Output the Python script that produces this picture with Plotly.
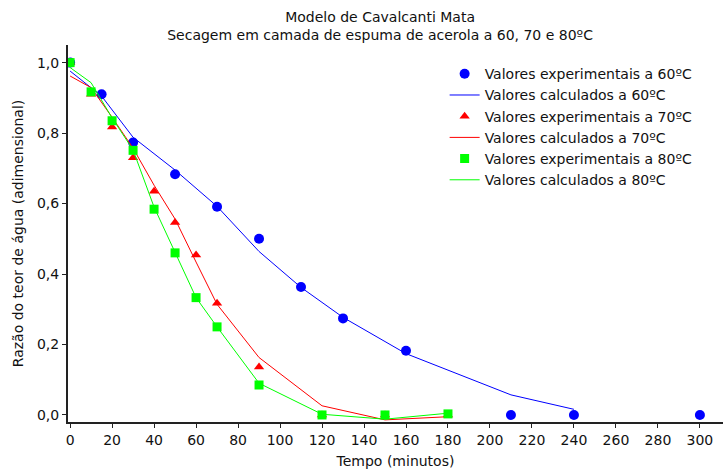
import plotly.graph_objects as go

# 60 °C
t60_exp = [0, 15, 30, 50, 70, 90, 110, 130, 160, 210, 240, 300]
mr60_exp = [1.0, 0.91, 0.773, 0.683, 0.591, 0.50, 0.363, 0.274, 0.182, 0.0, 0.0, 0.0]
t60_calc = [0, 15, 30, 50, 70, 90, 110, 130, 160, 210, 240]
mr60_calc = [0.976, 0.905, 0.788, 0.695, 0.592, 0.464, 0.362, 0.277, 0.174, 0.057, 0.016]

# 70 °C
t70_exp = [0, 10, 20, 30, 40, 50, 60, 70, 90, 120, 150, 180]
mr70_exp = [1.0, 0.91, 0.817, 0.73, 0.635, 0.546, 0.454, 0.317, 0.136, 0.0, 0.0, 0.0]
t70_calc = [0, 10, 20, 30, 40, 50, 60, 70, 90, 120, 150, 180]
mr70_calc = [0.962, 0.929, 0.845, 0.757, 0.652, 0.556, 0.434, 0.314, 0.163, 0.026, -0.014, -0.005]

# 80 °C
t80_exp = [0, 10, 20, 30, 40, 50, 60, 70, 90, 120, 150, 180]
mr80_exp = [1.0, 0.917, 0.835, 0.751, 0.584, 0.46, 0.333, 0.25, 0.085, 0.0, 0.0, 0.003]
t80_calc = [0, 10, 20, 30, 40, 50, 60, 70, 90, 120, 150, 180]
mr80_calc = [0.986, 0.943, 0.843, 0.752, 0.59, 0.46, 0.333, 0.25, 0.09, 0.002, -0.012, 0.005]

x_ticks = list(range(0, 301, 20))
y_ticks = [0.0, 0.2, 0.4, 0.6, 0.8, 1.0]

BLUE = "#0000FF"
RED = "#FF0000"
GREEN = "#00FF00"

fig = go.Figure()
fig.add_trace(go.Scatter(x=t60_exp, y=mr60_exp, mode="markers", name="Valores experimentais a 60ºC",
                         marker=dict(symbol="circle", size=10, color=BLUE)))
fig.add_trace(go.Scatter(x=t60_calc, y=mr60_calc, mode="lines", name="Valores calculados a 60ºC",
                         line=dict(color=BLUE, width=1)))
fig.add_trace(go.Scatter(x=t70_exp, y=mr70_exp, mode="markers", name="Valores experimentais a 70ºC",
                         marker=dict(symbol="triangle-up", size=9, color=RED)))
fig.add_trace(go.Scatter(x=t70_calc, y=mr70_calc, mode="lines", name="Valores calculados a 70ºC",
                         line=dict(color=RED, width=1)))
fig.add_trace(go.Scatter(x=t80_exp, y=mr80_exp, mode="markers", name="Valores experimentais a 80ºC",
                         marker=dict(symbol="square", size=9, color=GREEN)))
fig.add_trace(go.Scatter(x=t80_calc, y=mr80_calc, mode="lines", name="Valores calculados a 80ºC",
                         line=dict(color=GREEN, width=1)))

font_family = "DejaVu Sans, Liberation Sans, Arial, sans-serif"

fig.update_layout(
    width=724, height=470,
    margin=dict(l=68, r=1, t=45, b=48),
    paper_bgcolor="white", plot_bgcolor="white",
    separators=",.",
    font=dict(family=font_family, size=14, color="#111111"),
    title=dict(text="Modelo de Cavalcanti Mata<br>Secagem em camada de espuma de acerola a 60, 70 e 80ºC",
               x=0.525, xanchor="center", y=0.953, yanchor="top",
               font=dict(size=14, family=font_family)),
    showlegend=True,
    legend=dict(x=0.575, y=0.965, xanchor="left", yanchor="top",
                bgcolor="rgba(0,0,0,0)", font=dict(size=14, family=font_family),
                tracegroupgap=0, itemsizing="trace"),
    xaxis=dict(range=[-1, 311], tickvals=x_ticks, showgrid=False, zeroline=False,
               showline=True, linecolor="#222222", linewidth=2,
               ticks="outside", ticklen=4, tickcolor="#222222",
               tickfont=dict(size=14), automargin=False,
               title=dict(text="Tempo (minutos)", font=dict(size=14), standoff=9)),
    yaxis=dict(range=[-0.02, 1.05], tickvals=y_ticks, tickformat=".1f", showgrid=False, zeroline=False,
               showline=True, linecolor="#222222", linewidth=2,
               ticks="outside", ticklen=4, tickcolor="#222222",
               tickfont=dict(size=14), automargin=False,
               title=dict(text="Razão do teor de água (adimensional)", font=dict(size=14), standoff=10)),
)

fig.write_html("out.html", config={"displayModeBar": False})

# remove the default page margin so the figure sits at the window's top-left corner
with open("out.html", "r", encoding="utf-8") as f:
    html = f.read()
html = html.replace("<head>", "<head><style>html,body{margin:0;padding:0;overflow:hidden;}</style>", 1)
with open("out.html", "w", encoding="utf-8") as f:
    f.write(html)
